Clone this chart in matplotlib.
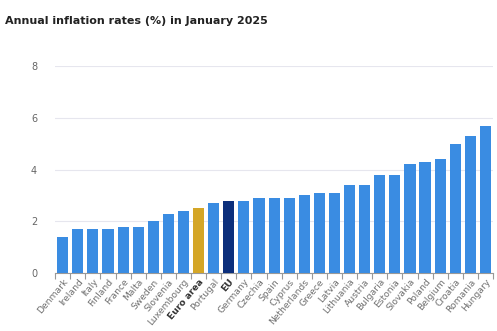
import matplotlib
matplotlib.use("Agg")
import matplotlib.pyplot as plt
import numpy as np

countries = ["Denmark", "Ireland", "Italy", "Finland", "France", "Malta", "Sweden",
             "Slovenia", "Luxembourg", "Euro area", "Portugal", "EU", "Germany",
             "Czechia", "Spain", "Cyprus", "Netherlands", "Greece", "Latvia",
             "Lithuania", "Austria", "Bulgaria", "Estonia", "Slovakia", "Poland",
             "Belgium", "Croatia", "Romania", "Hungary"]
rates = [1.4, 1.7, 1.7, 1.7, 1.8, 1.8, 2.0, 2.3, 2.4, 2.5, 2.7, 2.8, 2.8, 2.9,
         2.9, 2.9, 3.0, 3.1, 3.1, 3.4, 3.4, 3.8, 3.8, 4.2, 4.3, 4.4, 5.0, 5.3, 5.7]
y_ticks = [0, 2, 4, 6, 8]

base_color = "#3a8ce2"
highlight = {"Euro area": "#d4a627", "EU": "#0c2f7c"}
colors = [highlight.get(c, base_color) for c in countries]

fig = plt.figure(figsize=(4.97, 3.31), dpi=100)
ax = fig.add_axes([0.111, 0.175, 0.881, 0.625])

x = np.arange(len(countries))
ax.bar(x, rates, width=0.74, color=colors, zorder=3)

ax.set_xlim(-0.5, len(countries) - 0.5)
ax.set_ylim(0, 8)
ax.set_yticks(y_ticks)
ax.set_yticklabels([str(t) for t in y_ticks], color="#666666", fontsize=7)
ax.tick_params(axis="y", length=0, pad=13)
ax.grid(axis="y", color="#e6e6ee", linewidth=0.8, zorder=0)

ax.set_xticks(x)
ax.set_xticklabels(countries, rotation=50, ha="right", rotation_mode="anchor",
                   fontsize=6.6, color="#707070")
for lbl in ax.get_xticklabels():
    if lbl.get_text() in highlight:
        lbl.set_fontweight("bold")
        lbl.set_color("#333333")
ax.tick_params(axis="x", which="major", length=0, pad=3)
ax.set_xticks(np.arange(-0.5, len(countries), 1.0), minor=True)
ax.tick_params(axis="x", which="minor", length=4, color="#999999", width=0.8)

for side in ["top", "right", "left"]:
    ax.spines[side].set_visible(False)
ax.spines["bottom"].set_color("#999999")
ax.spines["bottom"].set_linewidth(0.8)

fig.text(0.01, 0.937, "Annual inflation rates (%) in January 2025",
         fontsize=8, fontweight="bold", color="#222222", ha="left", va="center")

fig.savefig("out.png", dpi=100)
